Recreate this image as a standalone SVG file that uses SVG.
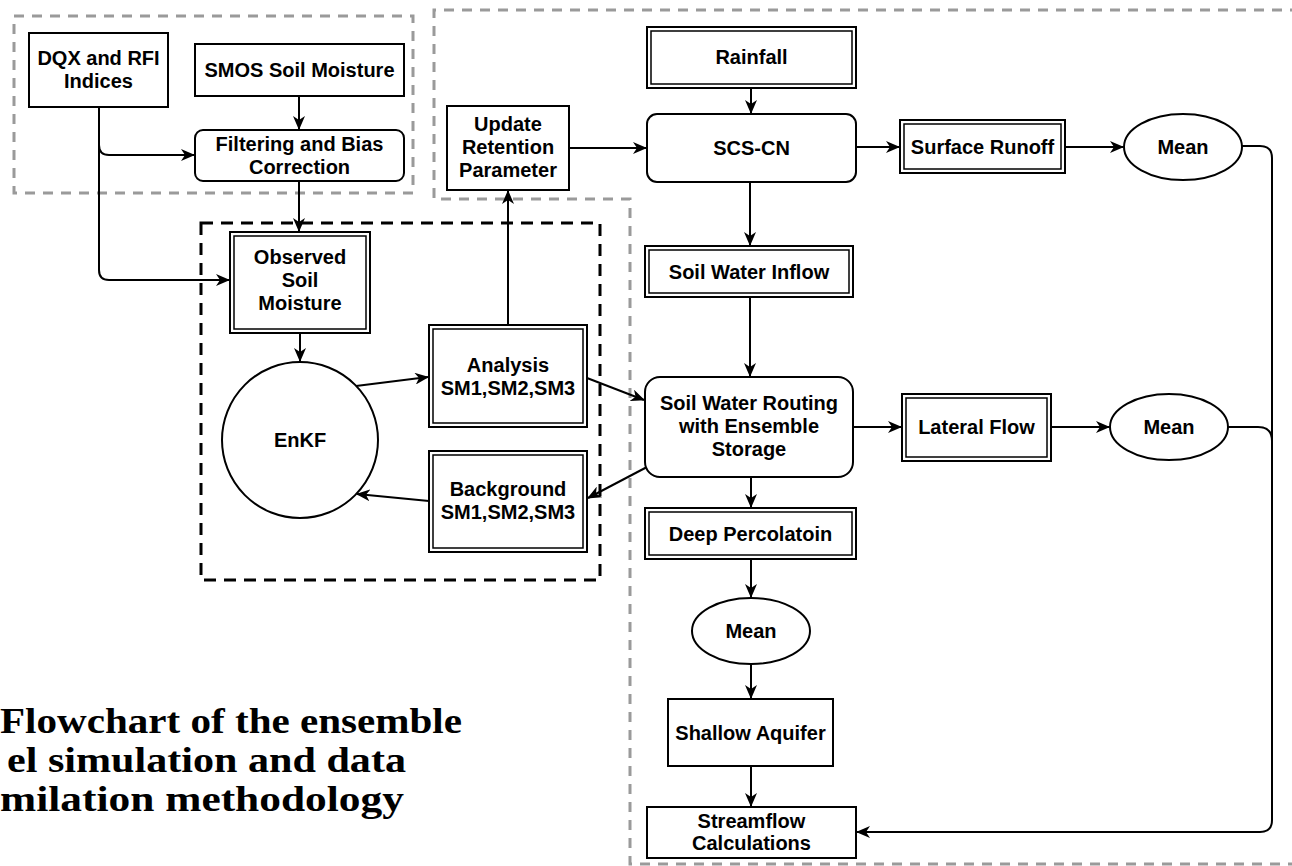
<svg xmlns="http://www.w3.org/2000/svg" width="1292" height="866" viewBox="0 0 1292 866">
<style>
.box{fill:#fff;stroke:#000;stroke-width:2}
.inner{fill:none;stroke:#000;stroke-width:1.5}
.t{font-family:"Liberation Sans",Arial,sans-serif;font-weight:bold;font-size:20px;fill:#000;text-anchor:middle}
.c{fill:none;stroke:#000;stroke-width:2}
.gray{fill:none;stroke:#9a9a9a;stroke-width:3;stroke-dasharray:10 8}
.blk{fill:none;stroke:#000;stroke-width:3;stroke-dasharray:12 8}
.cap{font-family:"Liberation Serif","Times New Roman",serif;font-weight:bold;font-size:35px;fill:#000}
</style>
<defs>
<marker id="arr" markerUnits="userSpaceOnUse" markerWidth="14" markerHeight="12" viewBox="0 0 14 12" refX="13" refY="6" orient="auto">
<path d="M0,0 L14,6 L0,12 L4,6 Z" fill="#000"/>
</marker>
</defs>
<rect width="1292" height="866" fill="#fff"/>

<g id="regions">
<rect class="gray" x="14" y="16" width="399" height="177"/>
<path class="gray" d="M1300,10 L434,10 L434,199 L630,199 L630,864 L1300,864"/>
<rect class="blk" x="201" y="223" width="399" height="357"/>
</g>

<g id="connectors">
<path class="c" d="M299,96 V129" marker-end="url(#arr)"/>
<path class="c" d="M99,107 V145 Q99,155 109,155 H194" marker-end="url(#arr)"/>
<path class="c" d="M99,107 V270 Q99,280 109,280 H229" marker-end="url(#arr)"/>
<path class="c" d="M299,181 V231" marker-end="url(#arr)"/>
<path class="c" d="M300,333 V361" marker-end="url(#arr)"/>
<path class="c" d="M356,386 L428,377" marker-end="url(#arr)"/>
<path class="c" d="M429,501 L357,494" marker-end="url(#arr)"/>
<path class="c" d="M508,325 V191" marker-end="url(#arr)"/>
<path class="c" d="M569,148 H646" marker-end="url(#arr)"/>
<path class="c" d="M751,88 V113" marker-end="url(#arr)"/>
<path class="c" d="M856,147 H899" marker-end="url(#arr)"/>
<path class="c" d="M1065,147 H1123" marker-end="url(#arr)"/>
<path class="c" d="M750,182 V245" marker-end="url(#arr)"/>
<path class="c" d="M750,297 V376" marker-end="url(#arr)"/>
<path class="c" d="M587,378 L644,400" marker-end="url(#arr)"/>
<path class="c" d="M647,467 L588,498" marker-end="url(#arr)"/>
<path class="c" d="M853,427 H901" marker-end="url(#arr)"/>
<path class="c" d="M1051,427 H1109" marker-end="url(#arr)"/>
<path class="c" d="M751,477 V507" marker-end="url(#arr)"/>
<path class="c" d="M751,559 V597" marker-end="url(#arr)"/>
<path class="c" d="M751,664 V698" marker-end="url(#arr)"/>
<path class="c" d="M751,766 V806" marker-end="url(#arr)"/>
<path class="c" d="M1242,146 H1260 Q1272,146 1272,158 V820 Q1272,832 1260,832 H857" marker-end="url(#arr)"/>
<path class="c" d="M1228,427 H1258 Q1272,427 1272,441"/>
</g>

<g id="dqx"><rect class="box" x="29" y="33" width="139" height="74"/>
<text class="t" x="98.5" y="65">DQX and RFI</text><text class="t" x="98.5" y="88">Indices</text></g>

<g id="smos"><rect class="box" x="195" y="44" width="209" height="52"/>
<text class="t" x="299.5" y="77">SMOS Soil Moisture</text></g>

<g id="filtering"><rect class="box" x="195" y="130" width="209" height="51" rx="8"/>
<text class="t" x="299.5" y="151">Filtering and Bias</text><text class="t" x="299.5" y="174">Correction</text></g>

<g id="update"><rect class="box" x="447" y="106" width="122" height="84"/>
<text class="t" x="508" y="131">Update</text><text class="t" x="508" y="154">Retention</text><text class="t" x="508" y="177">Parameter</text></g>

<g id="rainfall"><rect class="box" x="647" y="27" width="209" height="61"/><rect class="inner" x="651" y="31" width="201" height="53"/>
<text class="t" x="751.5" y="64">Rainfall</text></g>

<g id="scscn"><rect class="box" x="647" y="114" width="209" height="68" rx="10"/>
<text class="t" x="751.5" y="155">SCS-CN</text></g>

<g id="surface"><rect class="box" x="900" y="120" width="165" height="53"/><rect class="inner" x="904" y="124" width="157" height="45"/>
<text class="t" x="982.5" y="153.5">Surface Runoff</text></g>

<g id="mean1"><ellipse class="box" cx="1183" cy="147" rx="59" ry="33"/>
<text class="t" x="1183" y="154">Mean</text></g>

<g id="inflow"><rect class="box" x="645" y="246" width="208" height="51"/><rect class="inner" x="649" y="250" width="200" height="43"/>
<text class="t" x="749" y="278.5">Soil Water Inflow</text></g>

<g id="routing"><rect class="box" x="645" y="377" width="208" height="100" rx="15"/>
<text class="t" x="749" y="410">Soil Water Routing</text><text class="t" x="749" y="433">with Ensemble</text><text class="t" x="749" y="456">Storage</text></g>

<g id="lateral"><rect class="box" x="902" y="394" width="149" height="67"/><rect class="inner" x="906" y="398" width="141" height="59"/>
<text class="t" x="976.5" y="434">Lateral Flow</text></g>

<g id="mean2"><ellipse class="box" cx="1169" cy="427" rx="59" ry="33"/>
<text class="t" x="1169" y="434">Mean</text></g>

<g id="deep"><rect class="box" x="645" y="508" width="211" height="51"/><rect class="inner" x="649" y="512" width="203" height="43"/>
<text class="t" x="750.5" y="540.5">Deep Percolatoin</text></g>

<g id="mean3"><ellipse class="box" cx="751" cy="631" rx="59" ry="33"/>
<text class="t" x="751" y="638">Mean</text></g>

<g id="shallow"><rect class="box" x="668" y="699" width="165" height="67"/>
<text class="t" x="750.5" y="739.5">Shallow Aquifer</text></g>

<g id="streamflow"><rect class="box" x="647" y="807" width="209" height="51"/>
<text class="t" x="751.5" y="828">Streamflow</text><text class="t" x="751.5" y="850">Calculations</text></g>

<g id="observed"><rect class="box" x="230" y="232" width="140" height="101"/><rect class="inner" x="234" y="236" width="132" height="93"/>
<text class="t" x="300" y="264">Observed</text><text class="t" x="300" y="287">Soil</text><text class="t" x="300" y="310">Moisture</text></g>

<g id="enkf"><circle class="box" cx="300" cy="440" r="78"/>
<text class="t" x="300" y="447">EnKF</text></g>

<g id="analysis"><rect class="box" x="429" y="325" width="158" height="102"/><rect class="inner" x="433" y="329" width="150" height="94"/>
<text class="t" x="508" y="372">Analysis</text><text class="t" x="508" y="395">SM1,SM2,SM3</text></g>

<g id="background"><rect class="box" x="429" y="451" width="158" height="101"/><rect class="inner" x="433" y="455" width="150" height="93"/>
<text class="t" x="508" y="496">Background</text><text class="t" x="508" y="519">SM1,SM2,SM3</text></g>

<g id="caption">
<text class="cap" x="0" y="733" textLength="462" lengthAdjust="spacingAndGlyphs">Flowchart of the ensemble</text>
<text class="cap" x="7" y="772" textLength="399" lengthAdjust="spacingAndGlyphs">el simulation and data</text>
<text class="cap" x="0" y="811" textLength="404" lengthAdjust="spacingAndGlyphs">milation methodology</text>
</g>
</svg>
